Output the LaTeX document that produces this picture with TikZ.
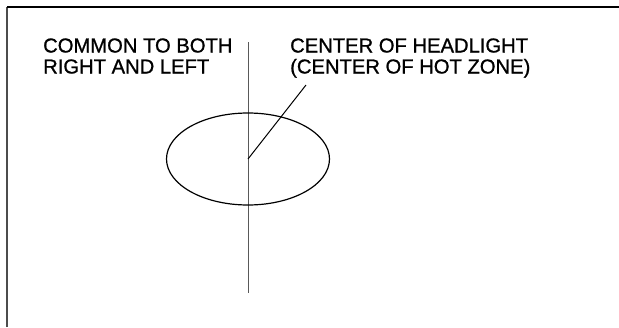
\documentclass[tikz,border=0pt]{standalone}
\usepackage{fontspec}
\setmainfont{Liberation Sans}
\newfontfamily\lblfont{Liberation Sans}[FakeBold=1]
\usetikzlibrary{shapes.geometric}
\begin{document}
\begin{tikzpicture}[x=1pt,y=-1pt,
  lbl/.style={anchor=base west,inner sep=0pt,font=\lblfont\fontsize{20.2}{21}\selectfont},
  thin line/.style={line width=0.9pt,draw=black!65},
  frame line/.style={line width=1.4pt},
  lamp shape/.style={ellipse,draw,line width=1.2pt,inner sep=0pt,minimum width=163pt,minimum height=92pt}]
\useasboundingbox (0,0) rectangle (619,327);
% partial frame
\coordinate (fbl) at (7,327);
\coordinate (ftl) at (7,7);
\coordinate (ftr) at (619,7);
\draw[frame line,draw=black!70] (fbl) -- (ftl);
\draw[frame line] (ftl) -- (ftr);
% labels
\node[lbl] (c1) at (43,52.5) {COMMON TO BOTH};
\node[lbl] (c2) at (43,73.5) {RIGHT AND LEFT};
\node[lbl] (h1) at (290,52.5) {CENTER OF HEADLIGHT};
\node[lbl] (h2) at (290,73.5) {(CENTER OF HOT ZONE)};
% vertical center line
\coordinate (vtop) at (248,42);
\coordinate (vbot) at (248,293);
\draw[thin line] (vtop) -- (vbot);
% headlight ellipse
\node[lamp shape] (lamp) at (248,159) {};
% leader
\coordinate (lead) at (306,85);
\draw[line width=1pt] (lamp.center) -- (lead);
\end{tikzpicture}
\end{document}
